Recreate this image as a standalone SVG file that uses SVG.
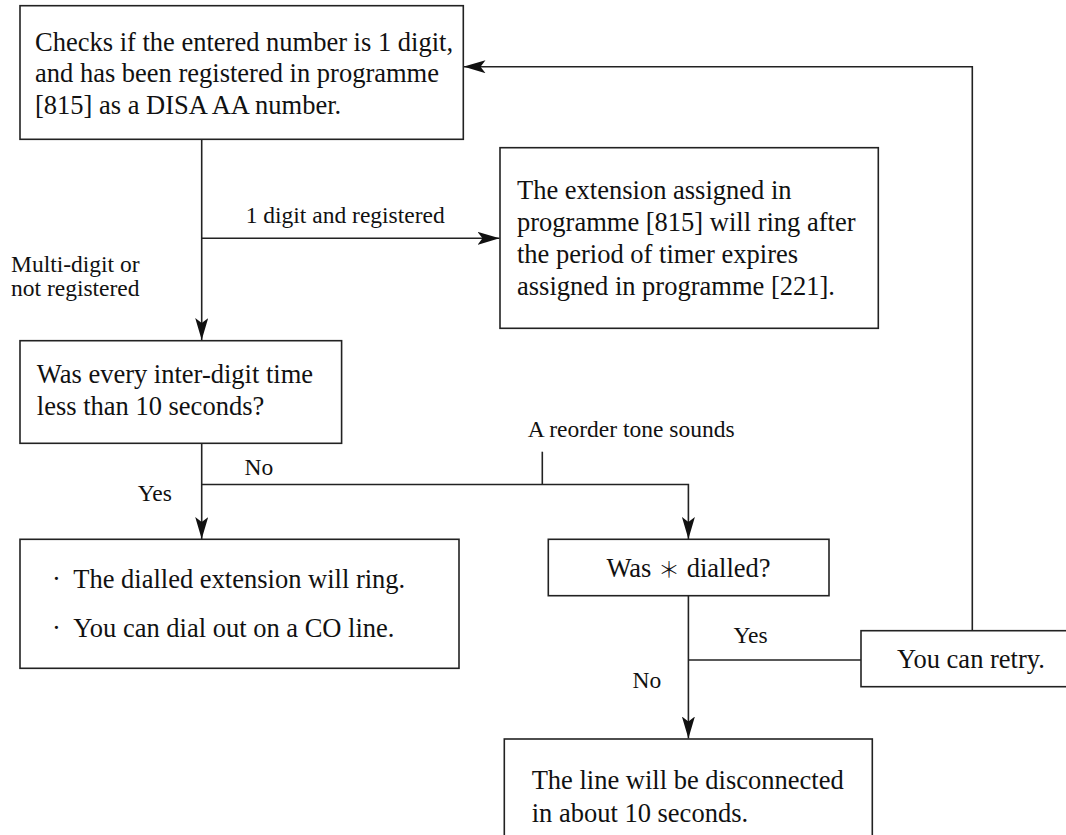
<svg xmlns="http://www.w3.org/2000/svg" width="1066" height="835" viewBox="0 0 1066 835">
<defs>
<style>
.box{fill:#fff;stroke:#222;stroke-width:1.6}
.t{font-family:"Liberation Serif","Times New Roman",serif;font-size:26.5px;fill:#111}
.l{font-family:"Liberation Serif","Times New Roman",serif;font-size:23.5px;fill:#111}
.c{fill:none;stroke:#222;stroke-width:1.6}
.sym{font-family:"Noto Sans CJK JP","Noto Sans CJK SC",sans-serif;font-size:22px;font-weight:300}
</style>
<marker id="ah" viewBox="0 0 22 13" refX="22" refY="6.5" markerWidth="22" markerHeight="13" markerUnits="userSpaceOnUse" orient="auto">
<path d="M0,0 L22,6.5 L0,13 L5,6.5 Z" fill="#111"/>
</marker>
</defs>
<rect width="1066" height="835" fill="#fff"/>
<g id="connectors">
<path class="c" d="M201.7,139.3 V340" marker-end="url(#ah)"/>
<path class="c" d="M201.7,238.3 H499.5" marker-end="url(#ah)"/>
<path class="c" d="M201.7,443.3 V539" marker-end="url(#ah)"/>
<path class="c" d="M201.7,484.5 H688.4 V539" marker-end="url(#ah)"/>
<path class="c" d="M542.3,451.7 V484.5"/>
<path class="c" d="M688.4,595.7 V738.5" marker-end="url(#ah)"/>
<path class="c" d="M688.4,660 H861"/>
<path class="c" d="M972.3,630.7 V66.7 H463.5" marker-end="url(#ah)"/>
<text class="l" x="245.7" y="223">1 digit and registered</text>
<text class="l" x="11" y="271.5">Multi-digit or</text>
<text class="l" x="11" y="295.5">not registered</text>
<text class="l" x="244.5" y="475">No</text>
<text class="l" x="137.7" y="500.7">Yes</text>
<text class="l" x="527.7" y="436.7">A reorder tone sounds</text>
<text class="l" x="733.4" y="642.7">Yes</text>
<text class="l" x="632.5" y="688">No</text>
</g>
<g id="check">
<rect class="box" x="20" y="5.7" width="443.3" height="133.6"/>
<text class="t" x="35" y="50.7">Checks if the entered number is 1 digit,</text>
<text class="t" x="35" y="82.3">and has been registered in programme</text>
<text class="t" x="35" y="114">[815] as a DISA AA number.</text>
</g>
<g id="extension">
<rect class="box" x="500" y="147.7" width="378.3" height="180.6"/>
<text class="t" x="517" y="199.3">The extension assigned in</text>
<text class="t" x="517" y="230.7">programme [815] will ring after</text>
<text class="t" x="517" y="262.7">the period of timer expires</text>
<text class="t" x="517" y="295">assigned in programme [221].</text>
</g>
<g id="interdigit">
<rect class="box" x="20" y="340.7" width="321.6" height="102.6"/>
<text class="t" x="36.8" y="383.3">Was every inter-digit time</text>
<text class="t" x="36.8" y="415">less than 10 seconds?</text>
</g>
<g id="ring">
<rect class="box" x="20" y="539.3" width="439" height="129"/>
<text class="t" x="52" y="588.3">·</text>
<text class="t" x="73.3" y="588.3">The dialled extension will ring.</text>
<text class="t" x="52" y="636.7">·</text>
<text class="t" x="73.3" y="636.7">You can dial out on a CO line.</text>
</g>
<g id="star">
<rect class="box" x="548.3" y="539.3" width="280.7" height="56.4"/>
<text class="t" x="688.5" y="576.5" text-anchor="middle">Was <tspan class="sym">＊</tspan> dialled?</text>
</g>
<g id="retry">
<rect class="box" x="861" y="630.7" width="220" height="56"/>
<text class="t" x="897" y="668.3">You can retry.</text>
</g>
<g id="disconnect">
<rect class="box" x="504.3" y="739" width="368" height="110"/>
<text class="t" x="531.7" y="789.3">The line will be disconnected</text>
<text class="t" x="531.7" y="821.7">in about 10 seconds.</text>
</g>
</svg>
